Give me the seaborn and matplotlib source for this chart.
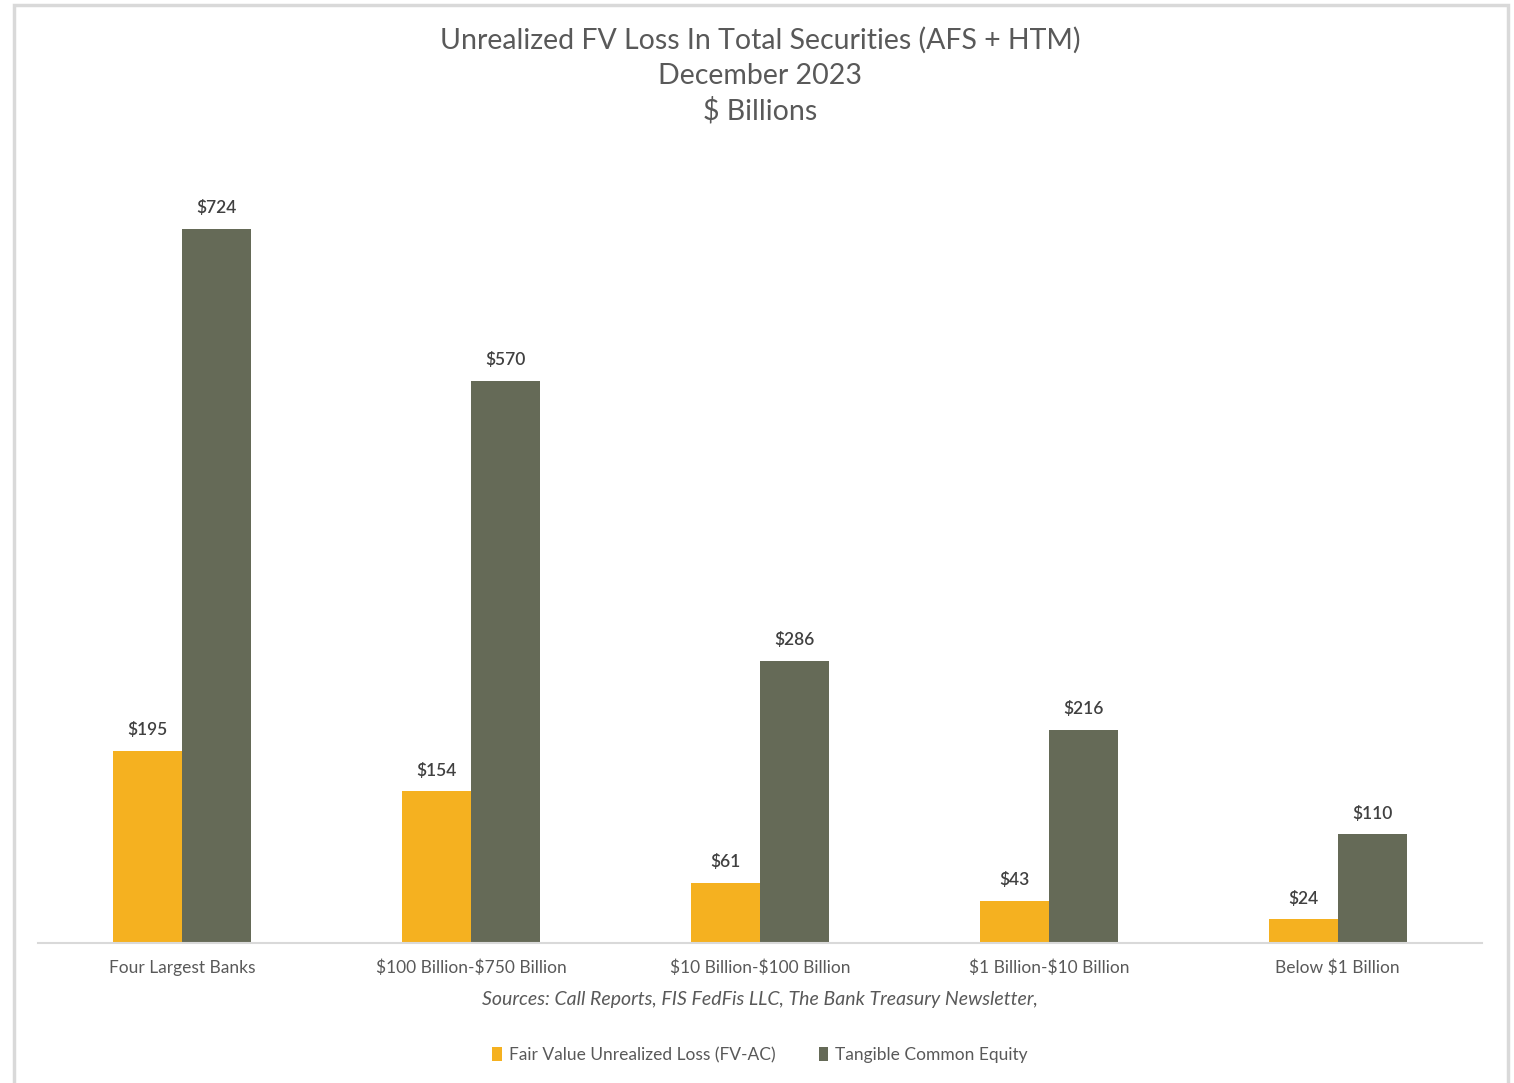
import matplotlib
matplotlib.use("Agg")
import matplotlib.pyplot as plt
from matplotlib.patches import Rectangle, Patch
import seaborn as sns
import pandas as pd

# Values ($ billions) by bank asset-size group
groups = ["Four Largest Banks", "$100 Billion-$750 Billion", "$10 Billion-$100 Billion",
          "$1 Billion-$10 Billion", "Below $1 Billion"]
fv_loss = [195, 154, 61, 43, 24]
tce = [724, 570, 286, 216, 110]
series_names = ["Fair Value Unrealized Loss (FV-AC)", "Tangible Common Equity"]

YELLOW = "#F5B120"
OLIVE = "#656A57"
TEXT = "#595959"

df = pd.DataFrame({
    "group": groups * 2,
    "value": fv_loss + tce,
    "series": [series_names[0]] * len(groups) + [series_names[1]] * len(groups),
})

sns.set_theme(style="white")
plt.rcParams["font.family"] = ["Lato", "DejaVu Sans"]
plt.rcParams["text.parse_math"] = False  # dollar signs are literal text

fig = plt.figure(figsize=(15.14, 10.83), dpi=100)
ax = fig.add_axes([0.0251, 0.1293, 0.9538, 0.7285])

sns.barplot(data=df, x="group", y="value", hue="series", order=groups,
            hue_order=series_names, palette=[YELLOW, OLIVE], width=0.478,
            gap=0, linewidth=0, saturation=1, ax=ax, legend=False)

for cont in ax.containers:
    vals = [b.get_height() for b in cont]
    ax.bar_label(cont, labels=[f"${v:,.0f}" for v in vals], padding=9,
                 fontsize=12.5, color="#404040", fontweight="semibold")

ax.set_ylim(0, 800)
ax.set_xlim(-0.5, len(groups) - 0.5)
ax.set_xlabel("")
ax.set_ylabel("")
ax.set_yticks([])
for s in ["left", "right", "top"]:
    ax.spines[s].set_visible(False)
ax.spines["bottom"].set_color("#D9D9D9")
ax.spines["bottom"].set_linewidth(1.5)
ax.tick_params(axis="x", length=0, pad=12, labelsize=12.5, labelcolor=TEXT)

# Title block
for y, line in zip([0.9625, 0.930, 0.8975],
                   ["Unrealized FV Loss In Total Securities (AFS + HTM)",
                    "December 2023", "$ Billions"]):
    fig.text(0.502, y, line, ha="center", va="center", fontsize=20.5, color=TEXT)

fig.text(0.502, 0.0775, "Sources: Call Reports, FIS FedFis LLC, The Bank Treasury Newsletter,",
         ha="center", va="center", fontsize=14, style="italic", color=TEXT)

handles = [Patch(facecolor=YELLOW, edgecolor="none"), Patch(facecolor=OLIVE, edgecolor="none")]
fig.legend(handles, series_names, loc="center", bbox_to_anchor=(0.502, 0.026), ncol=2,
           frameon=False, fontsize=12.5, labelcolor=TEXT, handlelength=0.55,
           handleheight=0.9, handletextpad=0.4, columnspacing=2.5)

# Chart frame
fig.add_artist(Rectangle((14 / 1514, -0.05), (1508 - 14) / 1514, 1.05 - 5 / 1083,
                         transform=fig.transFigure, fill=False, edgecolor="#D9D9D9",
                         linewidth=2.5))

fig.savefig("out.png", dpi=100, facecolor="white")
